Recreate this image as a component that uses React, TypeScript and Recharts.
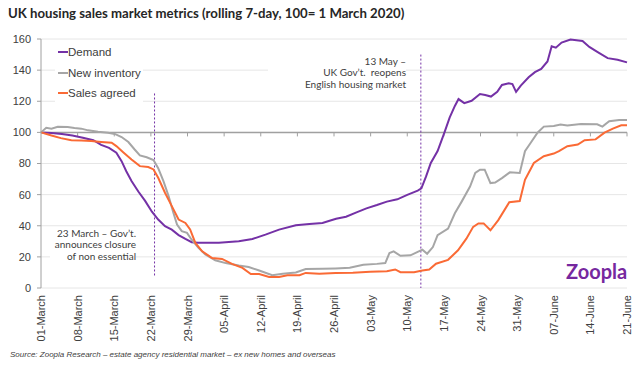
import React from 'react';
import {
  LineChart,
  Line,
  XAxis,
  YAxis,
  CartesianGrid,
  ReferenceLine
} from 'recharts';

// day index (0 = 1 March) and index value
const demand: [number, number][] = [
  [0, 100], [2, 99.6], [4, 99], [6, 98], [8, 96.6], [10, 95], [11.5, 92], [13, 90], [14.4, 87],
  [15.4, 81.5], [16.3, 75], [17.3, 68.7], [18.6, 62], [19.9, 56], [21.2, 49], [22.4, 44],
  [23.7, 39.7], [25, 37.5], [26.3, 34], [27.6, 31.5], [28.8, 29.4], [30, 29], [34, 29],
  [37.8, 30], [40.4, 31.5], [42.9, 34.3], [45.5, 37.5], [48.7, 40.3], [51.3, 41.2], [53.8, 41.8],
  [55, 43], [56.4, 44.5], [58.3, 45.8], [60.3, 48.6], [62.2, 51.2], [64.2, 53.3], [66.1, 55.5],
  [68.1, 57], [70, 59.8], [72, 62.6], [72.7, 64], [73.6, 71.7], [74.5, 80.3], [75.8, 88],
  [77.1, 99.8], [78.1, 109.5], [79.1, 117], [79.8, 121.4], [80.9, 118.8], [82.3, 120.3],
  [83.9, 124.6], [84.9, 124], [86, 123], [87.2, 126], [88.1, 130.5], [89.4, 131.5], [90.1, 131],
  [90.8, 126], [91.7, 130], [93.2, 135.4], [94.4, 138.7], [95.6, 140.8], [96.8, 145.6],
  [97.6, 155.3], [98.4, 154.4], [99.5, 157.7], [101.2, 159.6], [103.5, 158.7], [104.8, 154.9],
  [106.4, 151.6], [108.3, 147.7], [110.2, 146.7], [112, 145]
];

const newInventory: [number, number][] = [
  [0, 100], [1, 103], [2, 102.4], [3.2, 103.6], [5.1, 103.4], [6.4, 102.8], [7.7, 102.4],
  [9, 101.3], [10.9, 100.4], [12.8, 99.8], [14.1, 99], [15.4, 97], [16.7, 93.8], [17.9, 89],
  [18.9, 85.2], [20.2, 84], [21.5, 82.2], [22.4, 77], [23.4, 68.7], [24.4, 59], [25.3, 48.3],
  [26, 40.8], [26.9, 36.5], [27.9, 35.4], [28.8, 31], [30.1, 25.8], [31.4, 21.5], [33.3, 17.8],
  [35.3, 16], [37.8, 14.4], [39.7, 13.5], [41.7, 11.2], [44.2, 8.2], [46.2, 9.2], [48.7, 10],
  [50.6, 12.2], [53.8, 12.4], [56.3, 12.6], [59, 13], [61.6, 14.9], [64.2, 15.5], [65.8, 16],
  [66.6, 22.5], [67.4, 23.5], [68.7, 20.7], [70.6, 21], [71.9, 23], [72.9, 24.6], [73.8, 22],
  [74.9, 26.3], [75.8, 33.9], [77.8, 38.2], [79.1, 48], [80.4, 55.5], [82, 65.2], [83, 73.9],
  [83.9, 76], [84.8, 76], [85.9, 67.4], [86.8, 67.8], [88.1, 70.6], [89.6, 74.3], [91.5, 73.9],
  [92.5, 87.9], [93.6, 93.3], [94.9, 99.8], [96.1, 103.7], [98, 104.1], [99.3, 105],
  [100.6, 104.5], [103.2, 105.4], [106.3, 105.2], [107.3, 103.7], [108.6, 107.1], [110.5, 108],
  [112, 108]
];

const salesAgreed: [number, number][] = [
  [0, 100], [2, 98], [3.8, 96.3], [5.8, 95], [7.7, 94.8], [9.6, 94.4], [11.5, 93.8], [13.5, 93.3],
  [14.4, 91.2], [15.7, 87.3], [17.3, 82.6], [18.9, 78.3], [20.5, 77.7], [21.5, 76.2], [22.4, 70.8],
  [23.7, 61.2], [25, 52.6], [26.3, 44], [27.6, 41.8], [28.5, 37.6], [29.5, 29], [30.8, 23.6],
  [32.7, 19.3], [34.6, 18.7], [36.5, 15.5], [38.5, 12.9], [40.1, 9], [41.7, 9], [43.6, 7.1],
  [45.5, 7.1], [47.1, 8.2], [49.4, 8.2], [50.6, 9.7], [53.2, 9.2], [56.3, 9.7], [59.6, 9.8],
  [62.9, 10.4], [66.1, 10.8], [67.7, 11.9], [68.7, 10.2], [71.3, 10.2], [72.9, 11.2], [74.2, 11.9],
  [75.5, 15.6], [77.8, 18.1], [79.7, 24.2], [81.3, 31.7], [82.6, 39.3], [83.6, 41.5], [84.6, 41.5],
  [85.9, 37.1], [87.4, 43.6], [89.5, 55.1], [91.5, 55.9], [92.5, 69.5], [94.2, 80.3],
  [96.1, 84.7], [98, 86.4], [99, 87.9], [100.6, 91.1], [102.6, 92.2], [103.9, 95], [106, 95.5],
  [107.7, 99.8], [109.3, 102.4], [110.9, 104.5], [112, 104.5]
];

const tickLabels = [
  '01-March', '08-March', '15-March', '22-March', '29-March', '05-April', '12-April', '19-April',
  '26-April', '03-May', '10-May', '17-May', '24-May', '31-May', '07-June', '14-June', '21-June'
];
const tickDays = tickLabels.map((_, i) => i * 7);
const yTicks = [0, 20, 40, 60, 80, 100, 120, 140, 160];

const lockdownDay = 21.7; // 23 March line as drawn
const reopenDay = 72.6; // 13 May line as drawn

const series = [
  { name: 'Demand', color: '#7431a6', points: demand },
  { name: 'New inventory', color: '#a6a6a6', points: newInventory },
  { name: 'Sales agreed', color: '#fa6a35', points: salesAgreed }
];

const toRows = (pts: [number, number][]) => pts.map(([day, value]) => ({ day, value }));

const DateTick = (props: any) => {
  const { x, y, payload } = props;
  const label = tickLabels[tickDays.indexOf(payload.value)];
  return (
    <text
      x={x}
      y={y}
      transform={`rotate(-90, ${x}, ${y})`}
      textAnchor="end"
      dy={4}
      fontSize={11}
      fontFamily="'Liberation Sans', Arial, sans-serif"
      fill="#404040"
    >
      {label}
    </text>
  );
};

export default function App() {
  return (
    <div
      style={{
        position: 'relative',
        width: 640,
        height: 365,
        background: '#fff',
        fontFamily: "'Liberation Sans', Arial, sans-serif"
      }}
    >
      <style>{`body{margin:0}`}</style>

      <div
        style={{
          position: 'absolute',
          left: 8,
          top: 5,
          fontFamily: 'Lato, sans-serif',
          fontWeight: 700,
          fontSize: 13.2,
          color: '#262626',
          whiteSpace: 'nowrap'
        }}
      >
        UK housing sales market metrics (rolling 7-day, 100= 1 March 2020)
      </div>

      <div style={{ position: 'absolute', left: 0, top: 0 }}>
        <LineChart width={640} height={365} margin={{ top: 39, right: 13, bottom: 0, left: 0 }}>
          <CartesianGrid vertical={false} stroke="#e6e6e6" />
          <XAxis
            dataKey="day"
            type="number"
            domain={[0, 112]}
            ticks={tickDays}
            interval={0}
            axisLine={false}
            tickLine={false}
            tickSize={0}
            tickMargin={7}
            height={77}
            tick={<DateTick />}
          />
          <YAxis
            type="number"
            domain={[0, 160]}
            ticks={yTicks}
            width={41}
            tickSize={4}
            tickMargin={6}
            axisLine={{ stroke: '#a0a0a0' }}
            tickLine={{ stroke: '#a0a0a0' }}
            tick={{ fontSize: 11, fill: '#404040' }}
          />
          <ReferenceLine y={100} stroke="#a0a0a0" strokeWidth={1.5} />
          {tickDays.slice(1).map((d) => (
            <ReferenceLine
              key={`t-${d}`}
              segment={[
                { x: d, y: 100 },
                { x: d, y: 97.4 }
              ]}
              stroke="#a0a0a0"
            />
          ))}
          <ReferenceLine
            segment={[
              { x: lockdownDay, y: 125 },
              { x: lockdownDay, y: 7.5 }
            ]}
            stroke="#7431a6"
            strokeDasharray="2 2"
          />
          <ReferenceLine
            segment={[
              { x: reopenDay, y: 150 },
              { x: reopenDay, y: 0 }
            ]}
            stroke="#7431a6"
            strokeDasharray="2 2"
          />
          {series.map((s) => (
            <Line
              key={s.name}
              data={toRows(s.points)}
              dataKey="value"
              type="linear"
              stroke={s.color}
              strokeWidth={2}
              dot={false}
              isAnimationActive={false}
            />
          ))}
        </LineChart>
      </div>

      {/* legend */}
      <div
        style={{
          position: 'absolute',
          left: 55,
          top: 42,
          width: 88,
          height: 62,
          background: '#fff',
          fontSize: 11.5,
          color: '#404040'
        }}
      >
        {series.map((s, i) => (
          <div
            key={s.name}
            style={{ position: 'absolute', left: 3, top: 4 + i * 20.5, display: 'flex', alignItems: 'center', whiteSpace: 'nowrap' }}
          >
            <span style={{ display: 'inline-block', width: 10, height: 2, background: s.color }} />
            <span>{s.name}</span>
          </div>
        ))}
      </div>

      {/* annotations */}
      <div
        style={{
          position: 'absolute',
          left: 268,
          top: 56,
          width: 138,
          textAlign: 'right',
          background: '#fff',
          fontFamily: 'Lato, sans-serif',
          fontSize: 10,
          lineHeight: '11.3px',
          color: '#404040'
        }}
      >
        13 May –<br />
        UK Gov’t.&nbsp; reopens<br />
        English housing market
      </div>
      <div
        style={{
          position: 'absolute',
          left: 50,
          top: 228,
          width: 86,
          textAlign: 'right',
          background: '#fff',
          fontFamily: 'Lato, sans-serif',
          fontSize: 10,
          lineHeight: '11.3px',
          color: '#404040'
        }}
      >
        23 March – Gov’t.<br />
        announces closure<br />
        of non essential
      </div>

      <div
        style={{
          position: 'absolute',
          left: 566,
          top: 259,
          fontFamily: 'Lato, sans-serif',
          fontWeight: 700,
          fontSize: 20,
          color: '#76289f'
        }}
      >
        Zoopla
      </div>

      <div
        style={{
          position: 'absolute',
          left: 10,
          top: 350,
          fontSize: 8,
          fontStyle: 'italic',
          color: '#404040',
          whiteSpace: 'nowrap'
        }}
      >
        Source: Zoopla Research – estate agency residential market – ex new homes and overseas
      </div>
    </div>
  );
}
